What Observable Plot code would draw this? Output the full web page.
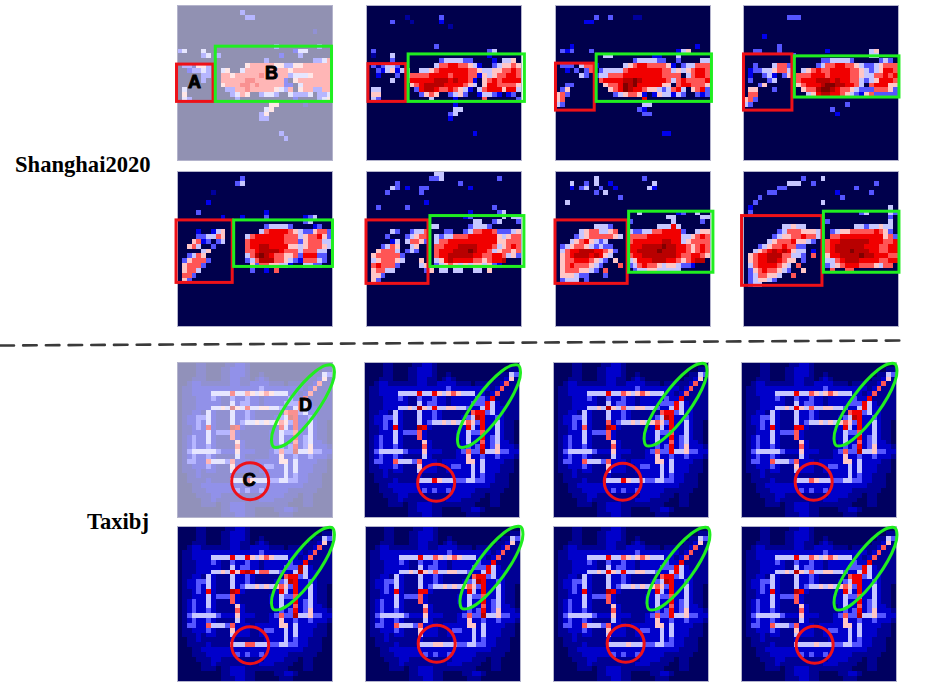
<!DOCTYPE html>
<html>
<head>
<meta charset="utf-8">
<script src="https://cdn.jsdelivr.net/npm/d3@7"></script>
<script src="https://cdn.jsdelivr.net/npm/@observablehq/plot@0.6"></script>
<style>
html,body{margin:0;padding:0;background:#fff}
#fig{position:relative;width:932px;height:686px;overflow:hidden}
#fig>svg,#fig>figure{position:absolute;margin:0}
.lab{position:absolute;font:bold 22.6px "Liberation Serif",serif;color:#000;white-space:nowrap;line-height:24px}
</style>
</head>
<body>
<div id="fig"></div>
<script>
// Activity levels: 0 navy, 2 blue, 4-5 white, 7 red, 9 dark red. Blank rows are all 0.
const shanghai1 = ["","00000000000003000000000000000000","00000000000000330000000000000000","","","00000000000000000000000000001","","","00000000000000000000300000000300","34000400000000000000000024400000","00000340300000000000020003000000","00000000000000000030000000003346","03315530000000566666553355666666","00233430045004666666666566666666","00000330066566666766666344456666","00000300066666776666662056666666","00000000056667767666662204666666","04000000003366766666543605663366","05000000000346500344300433340334","04300000000030000000000020000345","00000000000000000005500000100000","00000000000000000045000000000000","00000000000000000350000000000000","00000000000000000330000000000000","","","000000000000000000000300","0000000000000000000000300","","","",""];
const shanghai2 = ["","","00000000100000030000000000000000","00000300010000020000000000000000","00000000000000000100000000000000","","","","00000000000000300000000000000000","03000000000000000000000003400000","01000400000000000000000002000000","00000300000000034444330000204450","03134430000000466776654200345565","00324524400445677777766544556676","00200030566667777677766254566776","00000400677777888787762056767777","00000000056788887777654057766665","04400000003788766765420467775774","05500000000356500345300244320230","04300000000004000020000060000003","00000000000000000020000000000000","00000000000000000044000000000000","00000000000000000340000000000000","00000000000000000200000000000000","","","00000000000000000000002","","","","",""];
const shanghai3 = ["","","00000000300300001100000000000000","00000022000000000000000000000000","","","","","00020000000000000000000000000200","03230003000000000000000002450000","00000000004400000000220004000000","00000000000000003444433003000044","03330466200000456776666520344666","00203036034444677777776645456776","00000430344666777777776666046776","00000000067777889877777646766667","00330000005667989777775506776665","03500000000567987765543467405673","56300000000034566520254424300323","56000000000000000070000000000000","43000000000000000044000000000000","00000000000000000320000000000000","00000000000000000033000000000000","00000000000000000000000000000000","","","00000000000000000000002200000000","","","","",""];
const shanghai4 = ["","","00000000033300000000000000000000","","","","0000200000000000000000000000000","","0000000300000000000000000000","00330003000000000200000000450000","00000000003000000000000000440000","0000000000000000334444300000343","00300046630000034667766543345666","02334456640045676677776654345776","02003420350666777677776654466767","03000340000677788878776643457776","00035000000567778998877640677755","05500030000056689987665433366653","06600000000004578877654325633333","56300000000000000000000000000000","43000000000000000000030000000000","00000000000000000030000000000000","00000000000000000002000000000000","","","","","","","","",""];
const shanghai5 = ["","000000000000030000000000","00000000000034000000000000000000","000000000000000000000000","0000000100000000000000000000","","0000002000000000000000000","","0000300000000000002000000000","00000000020002000030000000234","000000000000000000000000003400","00000000000000000034444300002300","00002002450000000467777654335663","00003344650000467777776664566753","00056230340000677777776663566644","00564003000000677887777554566654","00000450000000667888876664666440","00346500000000468987665563777330","03566630000000346888665432666430","05666300000000053665544200443300","05664000000000030020600000000000","06630000000000000000000000000000","05300000000000000000000000000000","","","","","","","","",""];
const shanghai6 = ["00000000000000440000000000000000","00000000000003340000000000030000","00000030000000000003000000000000","00000430200330000000020000000000","00003000000300000000000000000000","00000000000000000000000000000000","00000000000020000000000000000000","00300000300000000000000000300000","00000000000000000000020000034000","00000000000000000000230000004044","00000000000000000000004400340003","00000000000004400000034443000000","00000430034460003300346677633345","00003000345660434466677777754566","00000240466530466777777777755666","00034650045000667778888777645676","00566640343000677788898776456656","05666663000000677888887766776453","04566654000500457877776656778000","06766630000450345654545545320000","05664400000035044044004405000000","05530000000000000000000000000000","05300000000000000000000000000000","","","","","","","","",""];
const shanghai7 = ["","00000000400000000030000000000","00040030400200000000400000000000","00020340030020000004200000000000","00000000304000000000000000000000","00000000000003000000000000000000","00400000000000000000000000000000","00000000000000000000000000000000","00000000000000000400000002300400","00000000000000000000000440000044","00000000000000030000000040000030","00000000444300000000044474000000","00000456644560043344667777300455","00003456666654066667777777445676","00045675434000067777778877456666","03456654343300077788889887765676","04677888776530077888898887765676","05678887875400067788888887667765","05667776543050045777888776567880","05676665430006034676654554332000","05666554306000003445544444000000","05554330003000000000000000000000","03444030000000000000000000000000","","","","","","","","",""];
const shanghai8 = ["","00000000000030004000000000000","00000000044400300000000000030000","00000003300000000000000300000000","000003300000000000020000003000","00030000000000000000300000000","00300000000000004000000000000000","02000000000000000000000000000040","03000000000000000000000034000043","00000000000000000000000000000030","00000000000000000300000000000040","00000000445440000000000443445440","00000003466655540034556666676530","00000034556676640066777777777563","00000456667554300677888888777667","00034566766330000678888887776677","00456787875440200678889888776677","05677888664430600577888898877766","05677887655030000446788877776677","04677776540600000345677766654660","03567665430050000060066000000000","03466554006000000000000000000000","03455430000000000000000000000000","03440000000000000000000000000000","","","","","","","",""];

const taxibjRows = ["00001100001122100000000000000000","00001100011222100000000000000011","00001100011222100100000000001143","00011100011221101210000000011251","00122111111221122221110111112611","01122222222222222322222222126111","01122224444744654565444221261111","01112223211322322122222322711111","01112222211423322122223337421111","01112224454854744554432247422111","01122142111422321111116773422111","01223342111422321111234872232111","01223242111423445454565372242110","01123272111872111111274272242110","01122242333621111112243362242110","01232242111621111112242272342110","01232242111152111111242262342210","01232232111162111111232372352221","01344444322252221112363384453322","01232232111142111112252232232221","01332264443622212222255242222110","01122232111522211233224242221110","01112122111422211222224242221110","00112111111211111122224232211100","00111121111444754443344332211100","00011222222222222222222222111100","00011122222232322322222111111000","00001112211111111122221110110000","00000112111111111222111100110000","00000111011222111111111000110000","00000000011222110000112210000000","00000000011122110000011100000000"];
// Cell changes of each Taxibj panel against the shared rows: [row, column, level].
const taxibjChanges = [
  [],
  [[6,14,7],[7,24,3]],
  [[9,14,6],[13,6,6],[12,11,6],[18,24,7]],
  [[9,11,7],[9,14,6],[13,11,7],[24,14,6]],
  [[9,11,7],[9,13,7],[9,14,8],[9,15,7],[9,17,6],[9,18,6],[6,14,7],[8,25,8],[9,25,8],[24,14,6],[24,15,6]],
  [[9,14,6],[24,14,5],[24,15,5],[13,11,7]],
  [[9,11,7],[24,14,4],[18,24,7]],
  [[9,14,6],[24,14,4],[11,23,7]]
];
const taxibjLevelValues = [0.25,0.9,1.6,3,4,5,6,7,8,9];

const shanghaiLefts = [177,366,555,743];
const taxibjLefts = [[177,364,553,741],[177,365,553,741]];
const rowTops = [5,171,362,526];

const boxesA = [[-0.1,12.2,7.45,19.9],[0.4,12.1,8.2,19.9],[0.1,12,8.1,21.7],[0.1,10.1,10.1,21.7],[-0.2,10.1,11.4,23],[0,10.1,12.8,23.2],[0,10.1,14.9,23.2],[-0.3,9.2,16.3,23.6]];
const boxesB = [[7.9,8.5,31.9,19.9],[8.7,10.1,32.7,19.9],[8.5,10.1,32.3,19.9],[10.6,10.5,32.2,19],[11.7,10.1,32.1,19.7],[13.2,9.2,32.6,19.7],[15.2,8.3,32.6,20.9],[16.6,8.3,32.2,20.9]];
const ellipseOutline = [[6.1,-8.4],[6.5,-7],[6.04,-4.65],[2.4,1.8],[-2.6,7.2],[-4.7,8.4],[-6.1,8.4],[-6.5,7],[-6.04,4.65],[-2.4,-1.8],[2.6,-7.2],[4.7,-8.4]];
const ellipseCentres = [[25.9,9],[25.7,9],[25.2,8.7],[25.6,8.7],[25.9,8.7],[26,8.5],[25.8,8.7],[25.6,8.7]];
const circleCentres = [[15,24.5],[14.8,24.8],[14.3,24.6],[14.9,24.6],[15,24.5],[14.7,24.2],[14.9,24.2],[15.1,24.4]];
const seismicLevels = [0,2.25,4.5,6.75,9];
const seismicColors = ["#00004c","#0000ff","#ffffff","#ff0000","#800000"];
const shanghaiTextLetters = [{t:"A",c:3.5,r:15.8},{t:"B",c:19.4,r:13.9}];
const taxibjTextLetters = [{t:"C",c:14.8,r:24.3},{t:"D",c:26.4,r:8.9}];

const fig = document.getElementById("fig");
const RED = "#ee1118", GREEN = "#20ee20";
const MARGIN = 6, SIZE = 155;

function cellsOf(rows, changes = [], levelValues = d3.range(10)) {
  const out = [];
  const look = rows.map(s => s.padEnd(32, "0").slice(0, 32).split("").map(Number));
  for (const [r, c, v] of changes) look[r][c] = v;
  look.forEach((row, r) => row.forEach((v, c) => out.push({r, c, v: levelValues[v]})));
  return out;
}

function panel({cells, left, top, faded, extra}) {
  const svg = Plot.plot({
    width: SIZE + 2 * MARGIN, height: SIZE + 2 * MARGIN, margin: MARGIN,
    x: {domain: [0, 32], axis: null},
    y: {domain: [32, 0], axis: null},
    color: {type: "linear", domain: seismicLevels, range: seismicColors},
    style: {background: "transparent"},
    marks: [
      Plot.rect(cells, {x1: "c", x2: d => d.c + 1, y1: "r", y2: d => d.r + 1, fill: "v", fillOpacity: faded ? 0.43 : 1, shapeRendering: "crispEdges"}),
      Plot.frame({stroke: "#b4b4cc", strokeWidth: 1}),
      ...extra
    ]
  });
  svg.style.left = (left - MARGIN) + "px";
  svg.style.top = (top - MARGIN) + "px";
  fig.appendChild(svg);
}

const letterMark = list => Plot.text(list, {x: "c", y: "r", text: "t", fontSize: 18, fontWeight: 900, fontFamily: "Liberation Sans", fill: "#000", stroke: "#000", strokeWidth: 1});

const boxMark = (b, color) => Plot.rect([b], {x1: d => d[0], y1: d => d[1], x2: d => d[2], y2: d => d[3], fill: "none", stroke: color, strokeWidth: 3});

[shanghai1, shanghai2, shanghai3, shanghai4, shanghai5, shanghai6, shanghai7, shanghai8].forEach((rows, i) => {
  panel({
    cells: cellsOf(rows),
    left: shanghaiLefts[i % 4], top: rowTops[i < 4 ? 0 : 1], faded: i === 0,
    extra: [boxMark(boxesA[i], RED), boxMark(boxesB[i], GREEN), ...(i === 0 ? [letterMark(shanghaiTextLetters)] : [])]
  });
});

taxibjChanges.forEach((changes, i) => {
  const [ex, ey] = ellipseCentres[i], [cx, cy] = circleCentres[i];
  panel({
    cells: cellsOf(taxibjRows, changes, taxibjLevelValues),
    left: taxibjLefts[i < 4 ? 0 : 1][i % 4], top: rowTops[i < 4 ? 2 : 3], faded: i === 0,
    extra: [
      Plot.line(ellipseOutline, {x: d => ex + d[0], y: d => ey + d[1], curve: "catmull-rom-closed", stroke: GREEN, strokeWidth: 3, fill: "none"}),
      Plot.dot([[cx, cy]], {x: d => d[0], y: d => d[1], r: 18.5, stroke: RED, strokeWidth: 3, fill: "none"}),
      ...(i === 0 ? [letterMark(taxibjTextLetters)] : [])
    ]
  });
});

// dashed separator between the two datasets
const separatorEnds = [{x: 0, y: 345}, {x: 906, y: 340}];
const sep = Plot.plot({
  width: 932, height: 16, margin: 0,
  x: {type: "identity", axis: null},
  y: {domain: [350, 334], range: [16, 0], axis: null},
  marks: [Plot.line(separatorEnds, {x: "x", y: "y", stroke: "#3a3a3a", strokeWidth: 2.6, strokeDasharray: "13.5,9.2"})]
});
sep.style.left = "0px"; sep.style.top = "334px";
fig.appendChild(sep);

[["Shanghai2020", 15, 153], ["Taxibj", 87, 510]].forEach(([t, x, y]) => {
  const d = document.createElement("div");
  d.className = "lab"; d.textContent = t; d.style.left = x + "px"; d.style.top = y + "px";
  fig.appendChild(d);
});
</script>
</body>
</html>
